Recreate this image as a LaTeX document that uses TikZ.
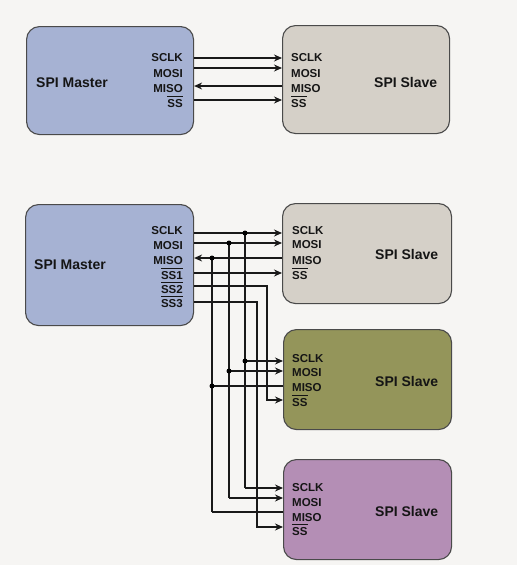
\documentclass[tikz,border=0pt]{standalone}
\usepackage{fontspec}
\setmainfont{Liberation Sans}
\usetikzlibrary{arrows.meta}
\definecolor{bgc}{HTML}{F6F5F3}
\definecolor{mblue}{HTML}{A6B2D3}
\definecolor{sgray}{HTML}{D5D0C8}
\definecolor{solive}{HTML}{94955A}
\definecolor{spurple}{HTML}{B48EB5}
\definecolor{edgec}{HTML}{4A4A4A}
\definecolor{txt}{HTML}{151515}
\newcommand\ovl[1]{$\overline{\hbox{#1}\vphantom{\hbox{\"A}}}$}
\tikzset{
  box/.style={draw=edgec, line width=1.1pt, rounded corners=13pt, anchor=north west, inner sep=0pt},
  pinr/.style={font=\fontsize{11.5}{11.5}\selectfont\bfseries, text=txt, inner sep=0pt, anchor=base east},
  pinl/.style={font=\fontsize{11.5}{11.5}\selectfont\bfseries, text=txt, inner sep=0pt, anchor=base west},
  title/.style={font=\fontsize{14}{14}\selectfont\bfseries, text=txt, inner sep=0pt, anchor=west},
  wire/.style={line width=1.3pt, draw=black!90},
  sig/.style={wire, -{Stealth[length=8pt,width=7pt]}},
  dot/.style={circle, fill=black, inner sep=0pt, minimum size=5pt}
}
\begin{document}
\begin{tikzpicture}[x=1pt,y=-1pt]
\fill[bgc] (0,0) rectangle (517,565);
\useasboundingbox (0,0) rectangle (517,565);
% ---------- top pair ----------
\node[box, fill=mblue, minimum width=167pt, minimum height=108pt] (m1) at (26,26) {};
\node[box, fill=sgray, minimum width=167pt, minimum height=108pt] (s1) at (282,25) {};
\node[title] (m1t) at (36,83) {SPI Master};
\node[title] (s1t) at (374,82) {SPI Slave};
\node[pinr] (m1a) at (183,61) {SCLK};
\node[pinr] (m1b) at (183,77) {MOSI};
\node[pinr] (m1c) at (183,92) {MISO};
\node[pinr] (m1d) at (183,107) {\ovl{SS}};
\node[pinl] (s1a) at (291,61) {SCLK};
\node[pinl] (s1b) at (291,77) {MOSI};
\node[pinl] (s1c) at (291,92) {MISO};
\node[pinl] (s1d) at (291,107) {\ovl{SS}};
\draw[sig] (m1.east |- 0,58) -- (s1.west |- 0,58);
\draw[sig] (m1.east |- 0,68) -- (s1.west |- 0,68);
\draw[sig] (s1.west |- 0,86) -- (m1.east |- 0,86);
\draw[sig] (m1.east |- 0,100) -- (s1.west |- 0,100);
% ---------- bottom system ----------
\node[box, fill=mblue, minimum width=168pt, minimum height=121pt] (m2) at (25,204) {};
\node[box, fill=sgray, minimum width=169pt, minimum height=100pt] (sa) at (282,203) {};
\node[box, fill=solive, minimum width=168pt, minimum height=100pt] (sb) at (283,329) {};
\node[box, fill=spurple, minimum width=168pt, minimum height=100pt] (sc) at (283,459) {};
\node[title] (m2t) at (34,265) {SPI Master};
\node[title] (sat) at (375,254) {SPI Slave};
\node[title] (sbt) at (375,381) {SPI Slave};
\node[title] (sct) at (375,511) {SPI Slave};
\node[pinr] (m2a) at (183,234) {SCLK};
\node[pinr] (m2b) at (183,249) {MOSI};
\node[pinr] (m2c) at (183,264) {MISO};
\node[pinr] (m2d) at (183,279) {\ovl{SS1}};
\node[pinr] (m2e) at (183,293) {\ovl{SS2}};
\node[pinr] (m2f) at (183,307) {\ovl{SS3}};
\node[pinl] (saa) at (292,234) {SCLK};
\node[pinl] (sab) at (292,248) {MOSI};
\node[pinl] (sac) at (292,264) {MISO};
\node[pinl] (sad) at (292,279) {\ovl{SS}};
\node[pinl] (sba) at (292,362) {SCLK};
\node[pinl] (sbb) at (292,376) {MOSI};
\node[pinl] (sbc) at (292,391) {MISO};
\node[pinl] (sbd) at (292,406) {\ovl{SS}};
\node[pinl] (sca) at (292,491) {SCLK};
\node[pinl] (scb) at (292,506) {MOSI};
\node[pinl] (scc) at (292,521) {MISO};
\node[pinl] (scd) at (292,535) {\ovl{SS}};
% junctions
\coordinate (jclk1) at (245,233);
\coordinate (jclk2) at (245,361);
\coordinate (jclk3) at (245,488);
\coordinate (jmosi1) at (229,243);
\coordinate (jmosi2) at (229,371);
\coordinate (jmosi3) at (229,498);
\coordinate (jmiso1) at (212,258);
\coordinate (jmiso2) at (212,386);
\coordinate (jmiso3) at (212,512);
\coordinate (jss2) at (267,286);
\coordinate (jss3) at (257,302);
% SCLK
\draw[sig] (m2.east |- jclk1) -- (sa.west |- jclk1);
\draw[wire] (jclk1) -- (jclk3);
\draw[sig] (jclk2) -- (sb.west |- jclk2);
\draw[sig] (jclk3) -- (sc.west |- jclk3);
% MOSI
\draw[sig] (m2.east |- jmosi1) -- (sa.west |- jmosi1);
\draw[wire] (jmosi1) -- (jmosi3);
\draw[sig] (jmosi2) -- (sb.west |- jmosi2);
\draw[sig] (jmosi3) -- (sc.west |- jmosi3);
% MISO
\draw[sig] (sa.west |- jmiso1) -- (m2.east |- jmiso1);
\draw[wire] (jmiso1) -- (jmiso3);
\draw[wire] (sb.west |- jmiso2) -- (jmiso2);
\draw[wire] (sc.west |- jmiso3) -- (jmiso3);
% SS lines
\draw[sig] (m2.east |- 0,273) -- (sa.west |- 0,273);
\draw[sig] (m2.east |- jss2) -- (jss2) -- (jss2 |- 0,400) -- (sb.west |- 0,400);
\draw[sig] (m2.east |- jss3) -- (jss3) -- (jss3 |- 0,527) -- (sc.west |- 0,527);
% dots
\node[dot] (d1) at (jclk1) {};
\node[dot] (d2) at (jmosi1) {};
\node[dot] (d3) at (jmiso1) {};
\node[dot] (d4) at (jclk2) {};
\node[dot] (d5) at (jmosi2) {};
\node[dot] (d6) at (jmiso2) {};
\end{tikzpicture}
\end{document}
